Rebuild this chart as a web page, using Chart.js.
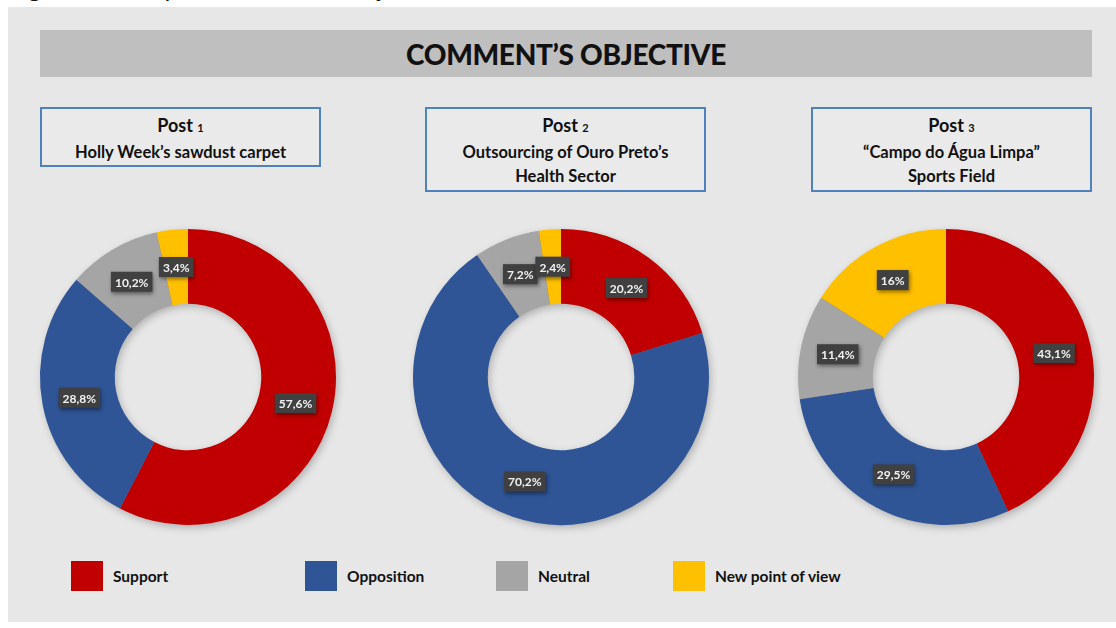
<!DOCTYPE html>
<html>
<head>
<meta charset="utf-8">
<script src="https://cdn.jsdelivr.net/npm/chart.js@4.4.1/dist/chart.umd.min.js"></script>
<style>
    body { margin: 0; width: 1116px; height: 628px; background: #fff; position: relative; overflow: hidden; font-family: Lato, sans-serif; }
    .caption { position: absolute; left: 8px; top: -25px; font-size: 25px; line-height: 25px; color: #111; white-space: nowrap; }
    .panel { position: absolute; left: 8px; top: 7px; width: 1108px; height: 615px; background: #e7e7e7; }
    .title { position: absolute; left: 40px; top: 30px; width: 1052px; height: 47px; background: #bfbfbf; text-align: center; font-weight: 900; font-size: 28px; line-height: 48px; color: #111; letter-spacing: -0.3px; }
    .post { position: absolute; top: 107px; width: 281px; border: 2px solid #4f81bd; background: #eaeaea; text-align: center; font-weight: 700; font-size: 16.5px; line-height: 24px; color: #111; box-sizing: border-box; padding-top: 4px; }
    .post .head { font-size: 18px; }
    .post .head small { font-size: 11px; }
    canvas { position: absolute; }
    .legend-item { position: absolute; top: 561px; height: 30px; display: flex; align-items: center; font-weight: 700; font-size: 15.5px; color: #111; }
    .legend-item span.box { display: inline-block; width: 32px; height: 30px; margin-right: 10px; }
</style>
</head>
<body>
<div class="caption">Figure 3 – Graph – Comment’s objective</div>
<div class="panel"></div>
<div class="title">COMMENT’S OBJECTIVE</div>
<div id="posts"></div>
<canvas id="chart1" width="336" height="336" style="left:20px;top:209px"></canvas>
<canvas id="chart2" width="336" height="336" style="left:393px;top:209px"></canvas>
<canvas id="chart3" width="336" height="336" style="left:778px;top:209px"></canvas>
<div id="legend"></div>

<script>
// dados do gráfico
const categories = ['Support', 'Opposition', 'Neutral', 'New point of view'];
const post1Values = [57.6, 28.8, 10.2, 3.4];
const post2Values = [20.2, 70.2, 7.2, 2.4];
const post3Values = [43.1, 29.5, 11.4, 16];
const postNumbers = ['1', '2', '3'];
const postTitles = [
    ['Holly Week’s sawdust carpet'],
    ['Outsourcing of Ouro Preto’s', 'Health Sector'],
    ['“Campo do Água Limpa”', 'Sports Field']
];

const colors = ['#c00000', '#2f5597', '#a5a5a5', '#ffc000'];

// caixas "Post"
const postLeft = [40, 425, 811];
const postsEl = document.getElementById('posts');
postTitles.forEach((lines, i) => {
    const div = document.createElement('div');
    div.className = 'post';
    div.style.left = postLeft[i] + 'px';
    div.style.height = (lines.length === 1 ? 60 : 85) + 'px';
    div.innerHTML = '<div class="head">Post <small>' + postNumbers[i] + '</small></div>' + lines.map(l => '<div>' + l + '</div>').join('');
    postsEl.appendChild(div);
});

// legenda
const legendX = [71, 305, 496, 673];
const legendEl = document.getElementById('legend');
categories.forEach((name, i) => {
    const item = document.createElement('div');
    item.className = 'legend-item';
    item.style.left = legendX[i] + 'px';
    item.innerHTML = '<span class="box" style="background:' + colors[i] + '"></span>' + name;
    legendEl.appendChild(item);
});

// sombra suave por baixo do anel
const ringShadow = {
    id: 'ringShadow',
    beforeDatasetsDraw(chart) {
        const arc = chart.getDatasetMeta(0).data[0];
        if (!arc) return;
        const ctx = chart.ctx;
        ctx.save();
        ctx.shadowColor = 'rgba(0,0,0,0.28)';
        ctx.shadowBlur = 8;
        ctx.shadowOffsetX = 2;
        ctx.shadowOffsetY = 3;
        ctx.beginPath();
        ctx.arc(arc.x, arc.y, arc.outerRadius - 1, 0, Math.PI * 2);
        ctx.arc(arc.x, arc.y, arc.innerRadius + 1, 0, Math.PI * 2, true);
        ctx.fillStyle = '#777';
        ctx.fill();
        ctx.restore();
    }
};

// rótulos de percentagem (estilo Excel)
const sliceLabels = {
    id: 'sliceLabels',
    afterDatasetsDraw(chart) {
        const ctx = chart.ctx;
        const meta = chart.getDatasetMeta(0);
        const values = chart.data.datasets[0].data;
        ctx.save();
        ctx.font = 'bold 12px Lato';
        ctx.textAlign = 'center';
        ctx.textBaseline = 'middle';
        meta.data.forEach((arc, i) => {
            const p = arc.tooltipPosition();
            const text = String(values[i]).replace('.', ',') + '%';
            const w = ctx.measureText(text).width + 8;
            const h = 20;
            ctx.shadowColor = 'rgba(0,0,0,0.45)';
            ctx.shadowBlur = 4;
            ctx.shadowOffsetX = 1;
            ctx.shadowOffsetY = 2;
            ctx.fillStyle = '#404040';
            ctx.fillRect(p.x - w / 2, p.y - h / 2, w, h);
            ctx.shadowColor = 'transparent';
            ctx.fillStyle = '#f2f2f2';
            ctx.fillText(text, p.x, p.y + 1);
        });
        ctx.restore();
    }
};

function makeDonut(id, values) {
    new Chart(document.getElementById(id), {
        type: 'doughnut',
        data: {
            labels: categories,
            datasets: [{
                data: values,
                backgroundColor: colors,
                borderWidth: 0
            }]
        },
        options: {
            responsive: false,
            animation: false,
            cutout: '49.5%',
            layout: { padding: 20 },
            plugins: {
                legend: { display: false },
                tooltip: { enabled: false }
            }
        },
        plugins: [ringShadow, sliceLabels]
    });
}

makeDonut('chart1', post1Values);
makeDonut('chart2', post2Values);
makeDonut('chart3', post3Values);
</script>
</body>
</html>
